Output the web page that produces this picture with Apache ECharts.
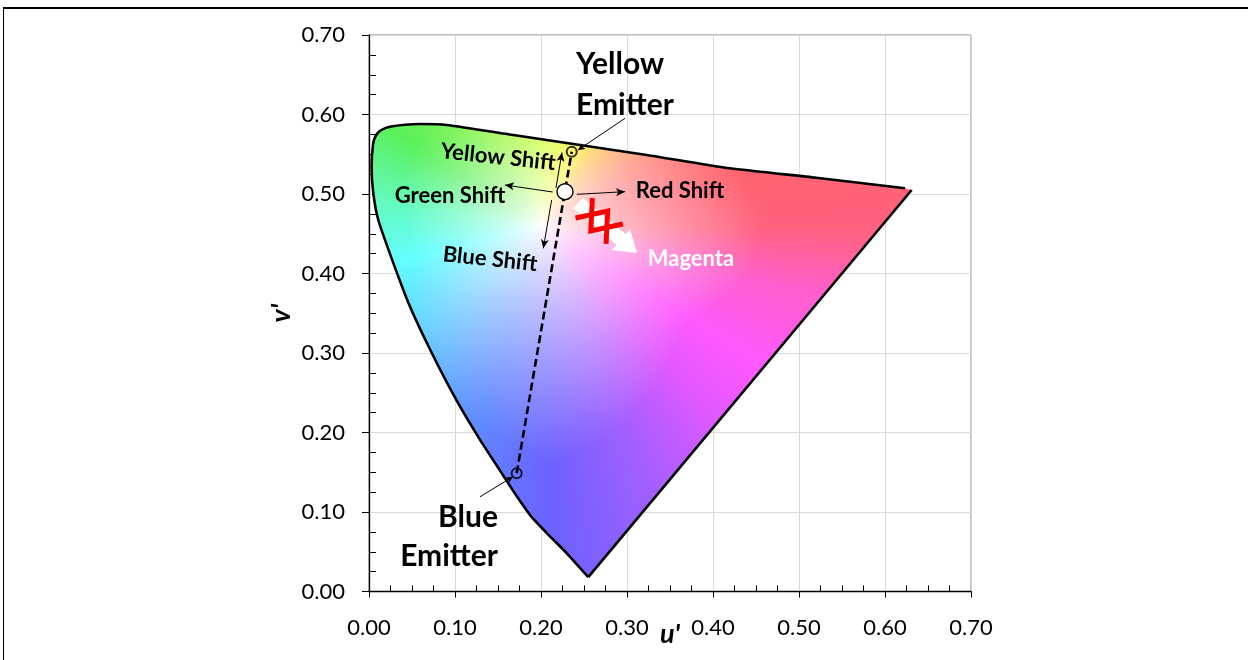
<!DOCTYPE html>
<html>
<head>
<meta charset="utf-8">
<script src="https://cdn.jsdelivr.net/npm/echarts@6/dist/echarts.min.js"></script>
<style>
  html, body { margin: 0; padding: 0; background: #fff; }
  #chart { width: 1248px; height: 660px; }
</style>
</head>
<body>
<div id="chart"></div>
<script>
// Spectral locus (u', v'), from the violet end up the left side to the red end
const locusU = [0.255, 0.230, 0.207, 0.1885, 0.172, 0.156, 0.129, 0.102, 0.073, 0.047, 0.026, 0.0108, 0.005, 0.003, 0.0047, 0.0075, 0.0125, 0.0195, 0.0275, 0.0419, 0.0593, 0.0903, 0.1678, 0.2453, 0.3229, 0.4198, 0.5200, 0.6233];
const locusV = [0.018, 0.048, 0.0732, 0.0945, 0.1195, 0.146, 0.191, 0.240, 0.300, 0.360, 0.420, 0.4673, 0.501, 0.534, 0.5625, 0.5725, 0.5792, 0.5832, 0.5853, 0.5872, 0.588, 0.5868, 0.5742, 0.5616, 0.5491, 0.5323, 0.5205, 0.5072];
// Line of purples (red corner back to the violet corner)
const purpleU = [0.631, 0.255];
const purpleV = [0.505, 0.018];

// Emitters: blue, yellow; and the mixed white point
const emitterU = [0.1717, 0.2357];
const emitterV = [0.1487, 0.5532];
const whiteU = [0.2279];
const whiteV = [0.5029];

// Shift arrows: start / end in (u', v')
const shiftNames = ['Yellow', 'Green', 'Red', 'Blue'];
const shiftU0 = [0.2174, 0.2136, 0.2415, 0.2124];
const shiftV0 = [0.5075, 0.5025, 0.4996, 0.4925];
const shiftU1 = [0.2244, 0.1581, 0.2977, 0.2027];
const shiftV1 = [0.5522, 0.5113, 0.5029, 0.4317];

// Leader lines from the emitter captions to the emitters
const leaderU0 = [0.2977, 0.1291];
const leaderV0 = [0.5952, 0.1192];
const leaderU1 = [0.2430, 0.1674];
const leaderV1 = [0.5553, 0.1444];

// Blocked shift toward magenta: arrow start / tip
const magentaArrowU = [0.2430, 0.3116];
const magentaArrowV = [0.4887, 0.4258];

// Text notes and their anchor points
const noteText = ['Yellow\nEmitter', 'Blue\nEmitter', 'Yellow Shift', 'Green Shift', 'Blue Shift', 'Red Shift', 'Magenta'];
const noteU = [0.2407, 0.1500, 0.1500, 0.0942, 0.1407, 0.3616, 0.3744];
const noteV = [0.6375, 0.0692, 0.5465, 0.4981, 0.4182, 0.5038, 0.4189];

// Axis range and step
const axisMin = 0, axisMax = 0.7, axisStep = 0.1;

// Gamut shading: hue stops by angle (deg) around the neutral point,
// their full colours, and the distance at which each reaches full strength
const neutralU = 0.200, neutralV = 0.460;
const hueAngle = [0, 15, 30, 50, 67, 90, 120, 145, 170, 195, 225, 255, 272, 290, 310, 325, 345, 360];
const hueRed   = [255, 255, 255, 255, 255, 215, 150, 90, 100, 100, 100, 95, 108, 160, 225, 255, 255, 255];
const hueGreen = [98, 100, 108, 185, 245, 255, 245, 240, 250, 255, 205, 135, 98, 95, 88, 88, 95, 98];
const hueBlue  = [125, 112, 105, 115, 110, 100, 90, 90, 190, 255, 255, 255, 255, 255, 255, 255, 205, 125];
const hueReach = [0.26, 0.24, 0.23, 0.15, 0.10, 0.12, 0.15, 0.18, 0.16, 0.15, 0.20, 0.26, 0.30, 0.27, 0.23, 0.21, 0.25, 0.26];

const FONT = 'Lato, "Open Sans", "DejaVu Sans", sans-serif';
const noteStyle = [
  { size: 30, align: 'left', rot: 0, color: '#000', lh: 41 },
  { size: 30, align: 'right', rot: 0, color: '#000', lh: 39 },
  { size: 22, align: 'center', rot: -6, color: '#000' },
  { size: 22, align: 'center', rot: 0, color: '#000' },
  { size: 22, align: 'center', rot: -6, color: '#000' },
  { size: 22, align: 'center', rot: 0, color: '#000' },
  { size: 22, align: 'center', rot: 0, color: '#fff' }
];

const zip = (a, b) => a.map((x, i) => [x, b[i]]);

function shadeAt(u, v) {
  const du = u - neutralU, dv = v - neutralV;
  const d = Math.hypot(du, dv);
  let ang = Math.atan2(dv, du) * 180 / Math.PI;
  if (ang < 0) ang += 360;
  let k = 0;
  while (k < hueAngle.length - 2 && ang > hueAngle[k + 1]) k++;
  const t = (ang - hueAngle[k]) / (hueAngle[k + 1] - hueAngle[k]);
  const mix = arr => arr[k] + (arr[k + 1] - arr[k]) * t;
  const reach = mix(hueReach);
  const s = Math.pow(Math.min(1, d / reach), 0.8);
  return [mix(hueRed), mix(hueGreen), mix(hueBlue)].map(c => Math.round(255 + (c - 255) * s));
}

function renderGamut(params, api) {
  const pa = api.coord([axisMin, axisMin]);
  const pb = api.coord([axisMax, axisMax]);
  const x0 = Math.floor(pa[0]), x1 = Math.ceil(pb[0]);
  const y0 = Math.floor(pb[1]), y1 = Math.ceil(pa[1]);
  const w = x1 - x0, h = y1 - y0;
  const cvs = document.createElement('canvas');
  cvs.width = w; cvs.height = h;
  const ctx = cvs.getContext('2d');
  const img = ctx.createImageData(w, h);
  const sx = (axisMax - axisMin) / (pb[0] - pa[0]);
  const sy = (axisMax - axisMin) / (pa[1] - pb[1]);
  for (let j = 0; j < h; j++) {
    const v = axisMin + (pa[1] - (y0 + j + 0.5)) * sy;
    for (let i = 0; i < w; i++) {
      const u = axisMin + (x0 + i + 0.5 - pa[0]) * sx;
      const c = shadeAt(u, v);
      const k = (j * w + i) * 4;
      img.data[k] = c[0]; img.data[k + 1] = c[1]; img.data[k + 2] = c[2]; img.data[k + 3] = 255;
    }
  }
  ctx.putImageData(img, 0, 0);
  ctx.globalCompositeOperation = 'destination-in';
  ctx.beginPath();
  const outline = zip(locusU, locusV).concat(zip(purpleU, purpleV));
  outline.forEach((p, i) => {
    const q = api.coord(p);
    if (i === 0) ctx.moveTo(q[0] - x0, q[1] - y0); else ctx.lineTo(q[0] - x0, q[1] - y0);
  });
  ctx.closePath();
  ctx.fill();
  return { type: 'image', style: { image: cvs, x: x0, y: y0, width: w, height: h } };
}

function renderMagentaArrow(params, api) {
  const p0 = api.coord([api.value(0), api.value(1)]);
  const p1 = api.coord([api.value(2), api.value(3)]);
  const dx = p1[0] - p0[0], dy = p1[1] - p0[1];
  const len = Math.hypot(dx, dy);
  const ux = dx / len, uy = dy / len;     // along the arrow
  const nx = uy, ny = -ux;                 // across the arrow
  const P = (s, t) => [p0[0] + ux * s + nx * t, p0[1] + uy * s + ny * t];
  const body = 7, head = 14, headLen = 21;
  const shaft = len - headLen;
  const arrow = [P(0, body), P(shaft, body), P(shaft, head), P(len, 0), P(shaft, -head), P(shaft, -body), P(0, -body)];
  const c = len * 0.36, a = 20, b = 13;
  const red = { stroke: '#ff0000', lineWidth: 5, fill: null, lineJoin: 'miter' };
  return {
    type: 'group',
    children: [
      { type: 'polygon', shape: { points: arrow }, style: { fill: '#ffffff', stroke: null } },
      { type: 'polyline', shape: { points: [P(c - a, b), P(c, -b), P(c + a, b)] }, style: red },
      { type: 'polyline', shape: { points: [P(c - a, -b), P(c, b), P(c + a, -b)] }, style: red }
    ]
  };
}

const tickFmt = v => v.toFixed(2);
const axisCommon = { type: 'value', min: axisMin, max: axisMax, interval: axisStep };

const arrowLines = shiftNames.map((n, i) => [
  { coord: [shiftU0[i], shiftV0[i]], symbol: 'none' },
  { coord: [shiftU1[i], shiftV1[i]], symbol: 'arrow', symbolSize: [6, 9] }
]).concat(leaderU0.map((u, i) => [
  { coord: [u, leaderV0[i]], symbol: 'none' },
  { coord: [leaderU1[i], leaderV1[i]], symbol: 'arrow', symbolSize: [5, 7] }
]));

const chart = echarts.init(document.getElementById('chart'), null, { renderer: 'canvas' });

const gridBox = { left: 369, right: 277, top: 35, bottom: 68.5, outerBoundsMode: 'none', containLabel: false };

const option = {
  animation: false,
  grid: [
    Object.assign({ show: true, borderColor: '#808080', borderWidth: 1, backgroundColor: 'transparent' }, gridBox),
    Object.assign({ show: false }, gridBox)
  ],
  xAxis: [
    Object.assign({}, axisCommon, {
      gridIndex: 0, position: 'bottom',
      name: "u'", nameLocation: 'middle', nameGap: 29, nameMoveOverlap: false,
      nameTextStyle: { fontFamily: FONT, fontWeight: 'bold', fontStyle: 'italic', fontSize: 27, color: '#000' },
      axisLine: { show: true, onZero: false, lineStyle: { color: '#000', width: 1.3 } },
      axisTick: { show: true, inside: false, length: 6, lineStyle: { color: '#000', width: 1 } },
      axisLabel: { formatter: tickFmt, margin: 25, fontFamily: FONT, fontSize: 22, color: '#000' },
      splitLine: { show: true, lineStyle: { color: '#d9d9d9', width: 1 } }
    }),
    Object.assign({}, axisCommon, {
      gridIndex: 1, position: 'bottom',
      axisLine: { show: false },
      axisTick: { show: false, inside: true },
      minorTick: { show: true, splitNumber: 4, length: 6, lineStyle: { color: '#000', width: 1 } },
      axisLabel: { show: false },
      splitLine: { show: false }
    })
  ],
  yAxis: [
    Object.assign({}, axisCommon, {
      gridIndex: 0, position: 'left',
      name: "v'", nameLocation: 'middle', nameGap: 74, nameRotate: 90, nameMoveOverlap: false,
      nameTextStyle: { fontFamily: FONT, fontWeight: 'bold', fontStyle: 'italic', fontSize: 27, color: '#000' },
      axisLine: { show: true, onZero: false, lineStyle: { color: '#000', width: 1.3 } },
      axisTick: { show: true, inside: false, length: 7, lineStyle: { color: '#000', width: 1 } },
      axisLabel: { formatter: tickFmt, margin: 24, fontFamily: FONT, fontSize: 22, color: '#000' },
      splitLine: { show: true, lineStyle: { color: '#d9d9d9', width: 1 } }
    }),
    Object.assign({}, axisCommon, {
      gridIndex: 1, position: 'left',
      axisLine: { show: false },
      axisTick: { show: false, inside: true },
      minorTick: { show: true, splitNumber: 4, length: 7, lineStyle: { color: '#000', width: 1 } },
      axisLabel: { show: false },
      splitLine: { show: false }
    })
  ],
  series: [
    {
      name: 'gamut', type: 'custom', xAxisIndex: 0, yAxisIndex: 0,
      renderItem: renderGamut, data: [[axisMin, axisMin]], clip: false, silent: true, z: 1
    },
    {
      name: 'spectral locus', type: 'line', data: zip(locusU, locusV),
      showSymbol: false, smooth: 0.2, lineStyle: { color: '#000', width: 2.6 }, z: 3, silent: true
    },
    {
      name: 'line of purples', type: 'line', data: zip(purpleU, purpleV),
      showSymbol: false, lineStyle: { color: '#000', width: 2.6 }, z: 3, silent: true
    },
    {
      name: 'magenta', type: 'custom', renderItem: renderMagentaArrow,
      data: [[magentaArrowU[0], magentaArrowV[0], magentaArrowU[1], magentaArrowV[1]]],
      clip: false, silent: true, z: 4
    },
    {
      name: 'emitter path', type: 'line', data: zip(emitterU, emitterV),
      showSymbol: false, lineStyle: { color: '#000', width: 2.6, type: [8, 4] }, z: 5, silent: true,
      markLine: {
        silent: true, animation: false,
        lineStyle: { color: '#000', width: 1, type: 'solid' },
        label: { show: false },
        data: arrowLines
      }
    },
    {
      name: 'emitters', type: 'scatter', data: zip(emitterU, emitterV),
      symbol: 'circle', symbolSize: 10,
      itemStyle: { color: 'rgba(255,255,255,0)', borderColor: '#000', borderWidth: 2 }, z: 6, silent: true
    },
    {
      name: 'white point', type: 'scatter', data: zip(whiteU, whiteV),
      symbol: 'circle', symbolSize: 16,
      itemStyle: { color: '#fff', borderColor: '#000', borderWidth: 1.4, opacity: 1 }, z: 7, silent: true
    }
  ]
};

chart.setOption(option);

// Text notes placed at their (u', v') anchors, plus the outer frame
const notes = noteText.map((t, i) => {
  const p = chart.convertToPixel({ gridIndex: 0 }, [noteU[i], noteV[i]]);
  const s = noteStyle[i];
  return {
    type: 'text', x: p[0], y: p[1], rotation: s.rot * Math.PI / 180, z: 100,
    style: {
      text: t, fill: s.color, fontFamily: FONT, fontWeight: 'bold', fontSize: s.size,
      lineHeight: s.lh || s.size * 1.2, align: s.align, verticalAlign: 'middle'
    }
  };
});
const frame = [
  { type: 'line', shape: { x1: 3, y1: 8, x2: 1248, y2: 8 }, style: { stroke: '#000', lineWidth: 2 }, z: 100 },
  { type: 'line', shape: { x1: 3.5, y1: 8, x2: 3.5, y2: 660 }, style: { stroke: '#000', lineWidth: 1 }, z: 100 }
];
chart.setOption({ graphic: notes.concat(frame) });
</script>
</body>
</html>
